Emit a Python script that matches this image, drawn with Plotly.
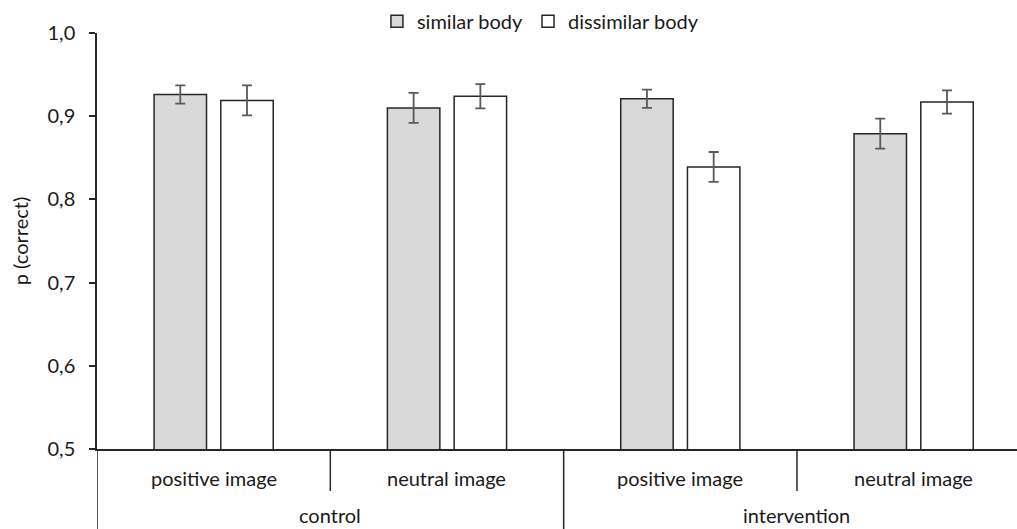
import plotly.graph_objects as go

# Data
groups = ["control", "control", "intervention", "intervention"]
images = ["positive image", "neutral image", "positive image", "neutral image"]
categories = [f"{g} | {i}" for g, i in zip(groups, images)]
outer_labels = ["control", "intervention"]

similar = [0.926, 0.910, 0.921, 0.879]
similar_err = [0.011, 0.018, 0.011, 0.018]
dissimilar = [0.919, 0.924, 0.839, 0.917]
dissimilar_err = [0.018, 0.0145, 0.018, 0.014]

y_ticks = [0.5, 0.6, 0.7, 0.8, 0.9, 1.0]

FONT = "Lato"
FS = 20
INK = "#262626"
TXT = "#1a1a1a"
ERR = "#595959"

fig = go.Figure()
fig.add_trace(go.Bar(
    name="similar body", x=categories, y=similar,
    marker=dict(color="#d9d9d9", line=dict(color=INK, width=1.5)),
    error_y=dict(type="data", array=similar_err, color=ERR, thickness=1.8, width=5),
))
fig.add_trace(go.Bar(
    name="dissimilar body", x=categories, y=dissimilar,
    marker=dict(color="#ffffff", line=dict(color=INK, width=1.5)),
    error_y=dict(type="data", array=dissimilar_err, color=ERR, thickness=1.8, width=5),
))

# Category labels below the axis
annotations = []
for i, lab in enumerate(images):
    annotations.append(dict(x=i, y=-0.0697, xref="x", yref="paper", text=lab,
                            showarrow=False, yanchor="middle",
                            font=dict(family=FONT, size=FS, color=TXT)))
for j, lab in enumerate(outer_labels):
    annotations.append(dict(x=2 * j + 0.5, y=-0.158, xref="x", yref="paper", text=lab,
                            showarrow=False, yanchor="middle",
                            font=dict(family=FONT, size=FS, color=TXT)))

# Divider lines between categories
shapes = []
for xv, y1 in [(-0.5, -0.2), (0.5, -0.101), (1.5, -0.2), (2.5, -0.101)]:
    shapes.append(dict(type="line", xref="x", yref="paper", x0=xv, x1=xv, y0=0, y1=y1,
                       line=dict(color=INK, width=1.5)))

fig.update_layout(
    width=1017, height=529,
    margin=dict(l=97, r=0, t=33, b=80),
    paper_bgcolor="white", plot_bgcolor="white",
    separators=",.",
    barmode="group", bargap=0.428, bargroupgap=0.214,
    font=dict(family=FONT, size=FS, color=TXT),
    showlegend=True,
    legend=dict(orientation="h", x=0.482, xanchor="center", y=1.028, yanchor="middle",
                font=dict(family=FONT, size=FS, color=TXT), itemwidth=30,
                bgcolor="rgba(0,0,0,0)"),
    annotations=annotations,
    shapes=shapes,
)
fig.update_xaxes(range=[-0.5, 3.443], showticklabels=False, ticks="",
                 showline=True, linecolor=INK, linewidth=1.5, showgrid=False, zeroline=False)
fig.update_yaxes(range=[0.5, 1.0], tickvals=y_ticks, tickformat=".1f",
                 ticks="outside", ticklen=6, tickcolor=INK, tickwidth=1.5,
                 ticklabelstandoff=10,
                 showline=True, linecolor=INK, linewidth=1.5, showgrid=False, zeroline=False,
                 title=dict(text="p (correct)", font=dict(family=FONT, size=FS, color=TXT),
                            standoff=14),
                 tickfont=dict(family=FONT, size=FS, color=TXT))

fig.write_html("out.html")
